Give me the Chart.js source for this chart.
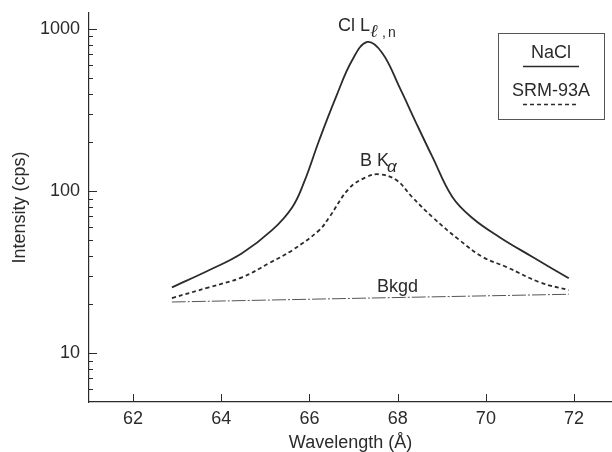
<!DOCTYPE html>
<html>
<head>
<meta charset="utf-8">
<script src="https://cdn.jsdelivr.net/npm/chart.js@4/dist/chart.umd.min.js"></script>
<style>
  body { margin: 0; background: #fff; }
  #chart { display: block; }
</style>
</head>
<body>
<canvas id="chart" width="612" height="452"></canvas>
<script>
// values (wavelength in Angstrom, intensity in cps)
var naclWave = [62.88, 63.72, 64.47, 65.15, 65.61, 65.88, 66.22, 66.60, 66.97, 67.31, 67.65, 68.04, 68.42, 68.79, 69.24, 69.70, 70.31, 71.06, 71.88];
var naclCps  = [25.5, 32.5, 41.4, 57.4, 79.6, 114, 206, 380, 644, 832, 712, 438, 263, 162, 92, 68, 52, 39.2, 29];

var srmWave = [62.88, 63.72, 64.47, 65.08, 65.61, 66.22, 66.45, 66.90, 67.29, 67.58, 67.97, 68.33, 68.79, 69.40, 69.93, 70.47, 71.22, 71.88];
var srmCps  = [21.9, 25.5, 29.4, 35.9, 43.2, 57.4, 69.1, 104, 122, 127, 117, 91.8, 69.1, 49.9, 39.2, 34, 27.4, 24.5];

var bkgdWave = [62.88, 67.4, 71.88];
var bkgdCps  = [20.7, 21.9, 23.1];

var xTicks = [62, 64, 66, 68, 70, 72];
var yTicks = [10, 100, 1000];
var yMinor = [6, 7, 8, 9, 20, 30, 40, 50, 60, 70, 80, 90, 200, 300, 400, 500, 600, 700, 800, 900];

var FONT = '"Liberation Sans", Arial, Helvetica, sans-serif';
var INK = '#2b2b2b';

function pts(xs, ys) {
    return xs.map(function(x, i) { return { x: x, y: ys[i] }; });
}

// inside tick marks, peak labels and the boxed legend
var decorations = {
    id: 'decorations',
    afterDraw: function(chart) {
        var ctx = chart.ctx;
        var xs = chart.scales.x, ys = chart.scales.y;
        var area = chart.chartArea;
        ctx.save();
        ctx.strokeStyle = INK;
        ctx.lineWidth = 1;
        ctx.beginPath();
        xTicks.forEach(function(v) {
            var px = Math.round(xs.getPixelForValue(v)) + 0.5;
            ctx.moveTo(px, area.bottom);
            ctx.lineTo(px, area.bottom - 8);
        });
        yTicks.forEach(function(v) {
            var py = Math.round(ys.getPixelForValue(v)) + 0.5;
            ctx.moveTo(area.left, py);
            ctx.lineTo(area.left + 8, py);
        });
        yMinor.forEach(function(v) {
            var py = Math.round(ys.getPixelForValue(v)) + 0.5;
            ctx.moveTo(area.left, py);
            ctx.lineTo(area.left + 4, py);
        });
        ctx.stroke();

        ctx.fillStyle = INK;
        ctx.textBaseline = 'alphabetic';
        ctx.textAlign = 'left';
        ctx.font = '18px ' + FONT;
        ctx.fillText('Cl L', 338, 31);
        ctx.font = 'italic 18px "DejaVu Serif", serif';
        ctx.fillText('\u2113', 370, 37);
        ctx.font = '14px ' + FONT;
        ctx.fillText(',', 382, 37);
        ctx.fillText('n', 388, 37);

        ctx.font = '18px ' + FONT;
        ctx.fillText('B K', 360, 166);
        ctx.font = 'italic 17px ' + FONT;
        ctx.fillText('\u03b1', 387, 172);

        ctx.font = '18px ' + FONT;
        ctx.fillText('Bkgd', 377, 292);

        // legend box
        ctx.strokeStyle = '#555';
        ctx.strokeRect(498.5, 33.5, 106, 86);
        ctx.textAlign = 'center';
        ctx.fillText('NaCl', 551, 58);
        ctx.fillText('SRM-93A', 551, 96);
        ctx.strokeStyle = INK;
        ctx.lineWidth = 1.6;
        ctx.beginPath();
        ctx.moveTo(523, 66.5);
        ctx.lineTo(579, 66.5);
        ctx.stroke();
        ctx.setLineDash([4, 3]);
        ctx.beginPath();
        ctx.moveTo(523, 104.5);
        ctx.lineTo(579, 104.5);
        ctx.stroke();
        ctx.restore();
    }
};

var ctx = document.getElementById('chart').getContext('2d');
var chart = new Chart(ctx, {
    type: 'line',
    data: {
        datasets: [{
            label: 'NaCl',
            data: pts(naclWave, naclCps),
            borderColor: INK,
            borderWidth: 1.8,
            pointRadius: 0,
            tension: 0.4,
            fill: false
        }, {
            label: 'SRM-93A',
            data: pts(srmWave, srmCps),
            borderColor: INK,
            borderWidth: 1.8,
            borderDash: [4, 3],
            pointRadius: 0,
            tension: 0.4,
            fill: false
        }, {
            label: 'Bkgd',
            data: pts(bkgdWave, bkgdCps),
            borderColor: '#555',
            borderWidth: 1,
            borderDash: [14, 2, 2, 2],
            pointRadius: 0,
            tension: 0.3,
            fill: false
        }]
    },
    options: {
        responsive: false,
        animation: false,
        events: [],
        layout: { padding: { top: 13, left: 0, right: 0, bottom: 0 } },
        plugins: {
            legend: { display: false },
            tooltip: { enabled: false }
        },
        scales: {
            x: {
                type: 'linear',
                min: 61,
                max: 72.86,
                grid: { display: false, drawTicks: false },
                border: { display: true, color: INK, width: 1.2 },
                ticks: { color: INK, padding: 6, font: { size: 18, family: FONT } },
                afterBuildTicks: function(scale) {
                    scale.ticks = xTicks.map(function(v) { return { value: v }; });
                },
                afterFit: function(scale) {
                    scale.height = 50;
                    scale.paddingLeft = 0;
                    scale.paddingRight = 0;
                },
                title: {
                    display: true,
                    text: 'Wavelength (Å)',
                    color: INK,
                    padding: { top: 0, bottom: 0 },
                    font: { size: 18, family: FONT, lineHeight: 1 }
                }
            },
            y: {
                type: 'logarithmic',
                min: 5,
                max: 1256,
                grid: { display: false, drawTicks: false },
                border: { display: true, color: INK, width: 1.2 },
                ticks: {
                    color: INK,
                    padding: 9,
                    font: { size: 18, family: FONT },
                    callback: function(v) { return String(v); }
                },
                afterBuildTicks: function(scale) {
                    scale.ticks = yTicks.map(function(v) { return { value: v }; });
                },
                afterFit: function(scale) {
                    scale.width = 89;
                    scale.paddingTop = 0;
                    scale.paddingBottom = 0;
                },
                title: {
                    display: true,
                    text: 'Intensity (cps)',
                    color: INK,
                    padding: { top: 9, bottom: 0 },
                    font: { size: 18, family: FONT }
                }
            }
        }
    },
    plugins: [decorations]
});
</script>
</body>
</html>
